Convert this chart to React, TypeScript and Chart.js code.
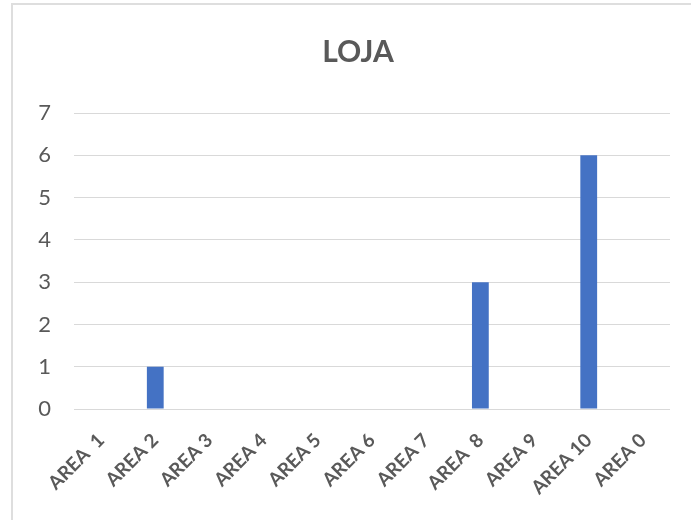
import React, { useEffect, useRef } from "react";
import { Chart, registerables } from "chart.js";

Chart.register(...registerables);

const categories = ["AREA  1", "AREA 2", "AREA 3", "AREA 4", "AREA 5", "AREA 6", "AREA 7", "AREA  8", "AREA 9", "AREA 10", "AREA 0"];
const values = [0, 1, 0, 0, 0, 0, 0, 3, 0, 6, 0];
const titleText = "LOJA";

const titlePlugin = {
  id: "offsetTitle",
  afterDraw(chart: any) {
    const ctx = chart.ctx;
    ctx.save();
    ctx.fillStyle = "#595959";
    ctx.font = "bold 30px Lato";
    ctx.textAlign = "center";
    ctx.textBaseline = "middle";
    ctx.fillText(titleText, 358, 52);
    ctx.restore();
  },
};

export default function App() {
  const ref = useRef<HTMLCanvasElement | null>(null);
  useEffect(() => {
    if (!ref.current) return;
    const chart = new Chart(ref.current, {
      type: "bar",
      data: {
        labels: categories,
        datasets: [
          {
            label: "LOJA",
            data: values,
            backgroundColor: "#4472C4",
            borderWidth: 0,
            barPercentage: 0.31,
            categoryPercentage: 1,
          },
        ],
      },
      plugins: [titlePlugin],
      options: {
        animation: false,
        responsive: false,
        maintainAspectRatio: false,
        layout: { padding: { left: 30, right: 21, top: 113, bottom: 0 } },
        plugins: {
          legend: { display: false },
          tooltip: { enabled: false },
          title: { display: false },
        },
        scales: {
          x: {
            grid: { display: false, drawTicks: false },
            border: { display: false },
            ticks: {
              color: "#595959",
              font: { family: "Lato", size: 19, weight: "bold" },
              autoSkip: false,
              maxRotation: 45,
              minRotation: 45,
              padding: 20,
            },
            afterFit: (scale: any) => {
              scale.height = 111;
            },
          },
          y: {
            min: 0,
            max: 7,
            grid: { color: "#D9D9D9", lineWidth: 1, drawTicks: false },
            border: { display: false },
            ticks: {
              stepSize: 1,
              color: "#595959",
              font: { family: "Lato", size: 22 },
              padding: 23,
            },
            afterFit: (scale: any) => {
              scale.width = 44;
            },
          },
        },
      },
    });
    return () => chart.destroy();
  }, []);
  return (
    <div style={{ position: "fixed", left: 0, top: 0, width: 691, height: 520, background: "#fff" }}>
      <div
        style={{
          position: "absolute",
          left: 11,
          top: 3,
          width: 700,
          height: 540,
          borderLeft: "2px solid #DEDEDE",
          borderTop: "2px solid #DEDEDE",
          boxSizing: "border-box",
        }}
      />
      <canvas ref={ref} width={691} height={520} style={{ position: "absolute", left: 0, top: 0 }} />
    </div>
  );
}
